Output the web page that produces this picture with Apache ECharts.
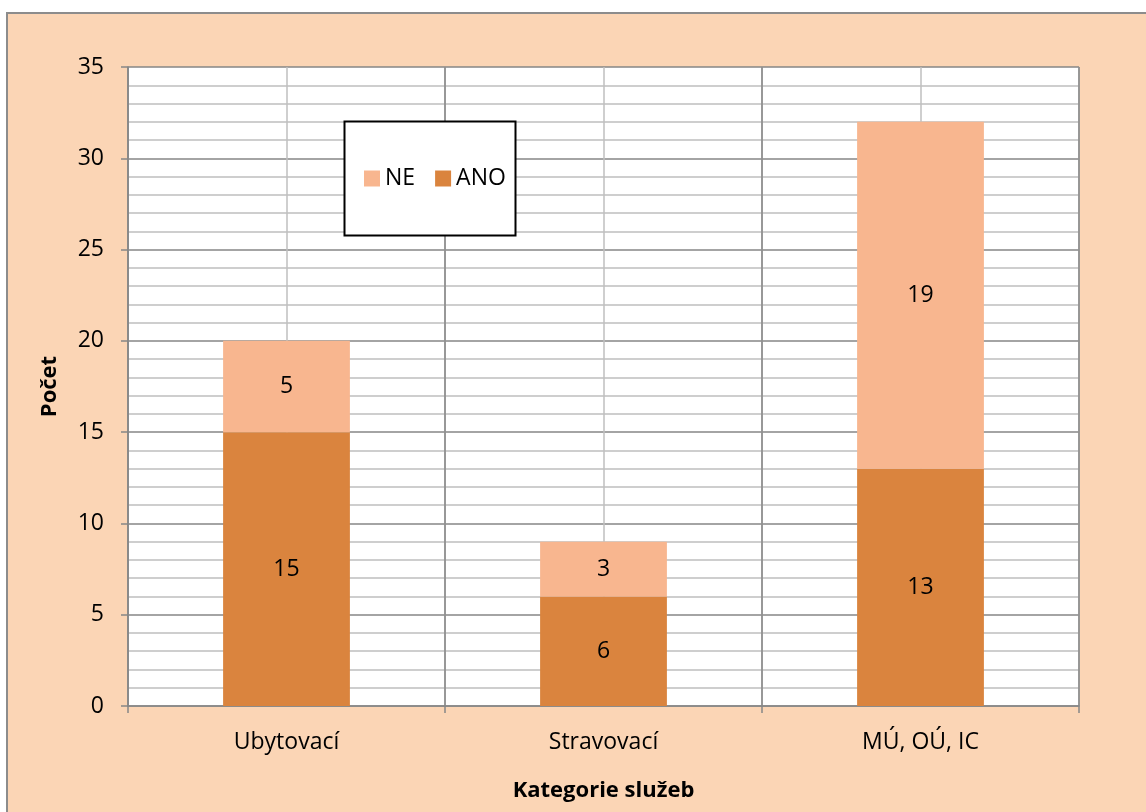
<!DOCTYPE html>
<html>
<head>
<meta charset="utf-8">
<script src="https://cdn.jsdelivr.net/npm/echarts@6/dist/echarts.min.js"></script>
<style>
html,body{margin:0;padding:0;background:#fff;}
#c{width:1146px;height:812px;}
</style>
</head>
<body>
<div id="c"></div>
<script>
const categories = ['Ubytovací', 'Stravovací', 'MÚ, OÚ, IC'];
const ano = [15, 6, 13];
const ne = [5, 3, 19];
const legendNames = ['NE', 'ANO'];

const FONT = '"Open Sans"';
const FS = 23;
const TFS = 22;
const chart = echarts.init(document.getElementById('c'));
chart.setOption({
  backgroundColor: '#ffffff',
  textStyle: { fontFamily: FONT, color: '#000' },
  animation: false,
  graphic: [
    { type: 'rect', z: -10, shape: { x: 7, y: 13, width: 1200, height: 900 },
      style: { fill: '#FBD5B5', stroke: '#8C8C8C', lineWidth: 2 } },
    { type: 'rect', z: 50, shape: { x: 344.5, y: 121.5, width: 171, height: 114 },
      style: { fill: '#ffffff', stroke: '#000000', lineWidth: 2 } }
  ],
  grid: { left: 128, right: 67, top: 67, bottom: 106, show: true, backgroundColor: '#ffffff', borderWidth: 0 },
  legend: {
    data: legendNames, left: 359, top: 162, z: 60,
    icon: 'rect', itemWidth: 16, itemHeight: 16, itemGap: 20,
    textStyle: { fontFamily: FONT, fontSize: FS, color: '#000' }
  },
  xAxis: [
    { type: 'category', data: categories, z: 1,
      axisLine: { show: true, lineStyle: { color: '#868686', width: 1.5 } },
      axisTick: { show: true, length: 7, alignWithLabel: false, lineStyle: { color: '#868686', width: 1.5 } },
      axisLabel: { fontFamily: FONT, fontSize: FS, color: '#000', margin: 25 },
      splitLine: { show: true, lineStyle: { color: '#868686', width: 1.5 } },
      name: 'Kategorie služeb', nameLocation: 'middle', nameGap: 74,
      nameTextStyle: { fontFamily: FONT, fontSize: TFS, fontWeight: 'bold', color: '#000' }
    },
    { type: 'value', min: 0, max: 6, interval: 1, position: 'top', z: 0,
      axisLine: { show: false }, axisTick: { show: false }, axisLabel: { show: false },
      splitLine: { show: true, lineStyle: { color: '#BFBFBF', width: 1.5 } }
    }
  ],
  yAxis: {
    type: 'value', min: 0, max: 35, interval: 5,
    axisLine: { show: true, lineStyle: { color: '#868686', width: 1.5 } },
    axisTick: { show: true, length: 7, lineStyle: { color: '#868686', width: 1.5 } },
    axisLabel: { fontFamily: FONT, fontSize: FS, color: '#000', margin: 24 },
    splitLine: { show: true, lineStyle: { color: '#868686', width: 1.5 } },
    minorTick: { show: false, splitNumber: 5 },
    minorSplitLine: { show: true, lineStyle: { color: '#BFBFBF', width: 1.5 } },
    name: 'Počet', nameLocation: 'middle', nameGap: 67, nameRotate: 90,
    nameTextStyle: { fontFamily: FONT, fontSize: TFS, fontWeight: 'bold', color: '#000' }
  },
  series: [
    { name: 'ANO', type: 'bar', stack: 's', data: ano, barWidth: '40%',
      itemStyle: { color: '#DA843E' },
      label: { show: true, position: 'inside', fontFamily: FONT, fontSize: FS, color: '#000' } },
    { name: 'NE', type: 'bar', stack: 's', data: ne, barWidth: '40%',
      itemStyle: { color: '#F8B68F' },
      label: { show: true, position: 'inside', fontFamily: FONT, fontSize: FS, color: '#000' } }
  ]
});
</script>
</body>
</html>
